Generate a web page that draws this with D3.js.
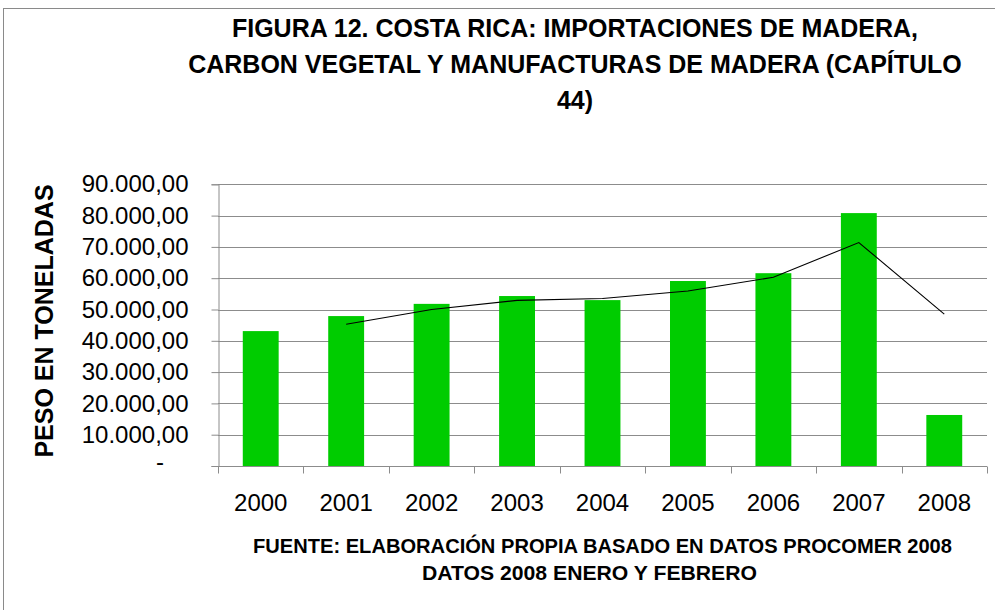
<!DOCTYPE html>
<html>
<head>
<meta charset="utf-8">
<script src="https://cdn.jsdelivr.net/npm/d3@7"></script>
<style>
  html, body { margin: 0; padding: 0; background: #fff; }
  svg { display: block; font-family: "Liberation Sans", Arial, sans-serif; }
</style>
</head>
<body>
<svg id="chart" width="995" height="610"></svg>
<script>
// ---- data ----
const years = ["2000", "2001", "2002", "2003", "2004", "2005", "2006", "2007", "2008"];
const imports = [43100, 47900, 51800, 54300, 53000, 59100, 61600, 80800, 16300];
const trend = [null, 45300, 50000, 52900, 53500, 55900, 60300, 71400, 48500];
const yTicks = [0, 10000, 20000, 30000, 40000, 50000, 60000, 70000, 80000, 90000];
const titleLines = [
  "FIGURA 12. COSTA RICA: IMPORTACIONES DE MADERA,",
  "CARBON VEGETAL Y MANUFACTURAS DE MADERA (CAPÍTULO",
  "44)"
];
const yAxisTitle = "PESO EN TONELADAS";
const noteLines = [
  "FUENTE: ELABORACIÓN PROPIA BASADO EN DATOS PROCOMER 2008",
  "DATOS 2008 ENERO Y FEBRERO"
];

// ---- layout ----
const svg = d3.select("#chart");
const plot = { left: 218, right: 987, top: 184.3, bottom: 466 };

// outer frame
svg.append("rect")
  .attr("x", 3.5).attr("y", 8.5)
  .attr("width", 1100).attr("height", 700)
  .attr("fill", "none").attr("stroke", "#8a8a8a").attr("stroke-width", 1);

const x = d3.scaleBand()
  .domain(years)
  .range([plot.left, plot.right])
  .paddingInner(0.58)
  .paddingOuter(0.29);

const y = d3.scaleLinear()
  .domain([0, 90000])
  .range([plot.bottom, plot.top]);

// number format 90.000,00
const esLocale = d3.formatLocale({ decimal: ",", thousands: ".", grouping: [3], currency: ["", ""] });
const fmt = esLocale.format(",.2f");

// gridlines
svg.append("g")
  .selectAll("line")
  .data(yTicks.filter(d => d > 0))
  .join("line")
  .attr("x1", plot.left).attr("x2", plot.right)
  .attr("y1", d => Math.round(y(d)) + 0.5).attr("y2", d => Math.round(y(d)) + 0.5)
  .attr("stroke", "#8c8c8c").attr("stroke-width", 1);

// bars
svg.append("g")
  .selectAll("rect")
  .data(years.map((yr, i) => ({ yr, v: imports[i] })))
  .join("rect")
  .attr("x", d => x(d.yr))
  .attr("width", x.bandwidth())
  .attr("y", d => y(d.v))
  .attr("height", d => y(0) - y(d.v))
  .attr("fill", "#00CC00");

// y axis
const yAxis = d3.axisLeft(y)
  .tickValues(yTicks)
  .tickSize(7)
  .tickPadding(23)
  .tickFormat(d => d === 0 ? "-" : fmt(d));
const gy = svg.append("g")
  .attr("transform", `translate(${plot.left + 0.5},0)`)
  .call(yAxis);
gy.select(".domain").attr("stroke", "#8c8c8c");
gy.selectAll(".tick line").attr("stroke", "#8c8c8c");
gy.selectAll(".tick text")
  .attr("fill", "#000")
  .style("font-size", "24px")
  .style("font-family", "'Liberation Sans', Arial, sans-serif");
gy.selectAll(".tick").filter(d => d === 0).select("text")
  .attr("text-anchor", "middle")
  .attr("x", 160 - plot.left - 0.5)
  .attr("dy", "0.15em");

// x axis with ticks at category boundaries
const xAxis = d3.axisBottom(x).tickSize(0).tickPadding(0);
const gx = svg.append("g")
  .attr("transform", `translate(0,${plot.bottom + 0.5})`)
  .call(xAxis);
gx.select(".domain").remove();
gx.selectAll(".tick text")
  .attr("fill", "#000")
  .attr("y", 44.5)
  .attr("dy", 0)
  .style("font-size", "24px")
  .style("font-family", "'Liberation Sans', Arial, sans-serif");
gx.append("line")
  .attr("x1", plot.left).attr("x2", plot.right)
  .attr("y1", 0).attr("y2", 0)
  .attr("stroke", "#8c8c8c");
const step = x.step();
gx.append("g").selectAll("line")
  .data(d3.range(years.length + 1))
  .join("line")
  .attr("x1", i => Math.round(plot.left + i * step) + 0.5)
  .attr("x2", i => Math.round(plot.left + i * step) + 0.5)
  .attr("y1", 0).attr("y2", 7)
  .attr("stroke", "#8c8c8c");

// trend line
const line = d3.line()
  .defined(d => d.v !== null)
  .x(d => x(d.yr) + x.bandwidth() / 2)
  .y(d => y(d.v));
svg.append("path")
  .datum(years.map((yr, i) => ({ yr, v: trend[i] })))
  .attr("d", line)
  .attr("fill", "none")
  .attr("stroke", "#000")
  .attr("stroke-width", 1.1);

// title
svg.append("g")
  .selectAll("text")
  .data(titleLines)
  .join("text")
  .attr("x", 575)
  .attr("y", (d, i) => 37 + i * 36)
  .attr("text-anchor", "middle")
  .style("font-size", "25px")
  .style("font-weight", "bold")
  .attr("fill", "#000")
  .text(d => d);

// y axis title
svg.append("text")
  .attr("transform", "translate(53,321) rotate(-90)")
  .attr("text-anchor", "middle")
  .style("font-size", "25px")
  .style("font-weight", "bold")
  .attr("fill", "#000")
  .text(yAxisTitle);

// source note
const noteX = [253, 422];
const noteW = [699, 335];
svg.append("g")
  .selectAll("text")
  .data(noteLines)
  .join("text")
  .attr("x", (d, i) => noteX[i])
  .attr("y", (d, i) => 553 + i * 27)
  .attr("textLength", (d, i) => noteW[i])
  .attr("lengthAdjust", "spacingAndGlyphs")
  .style("font-size", "20.5px")
  .style("font-weight", "bold")
  .attr("fill", "#000")
  .text(d => d);
</script>
</body>
</html>
